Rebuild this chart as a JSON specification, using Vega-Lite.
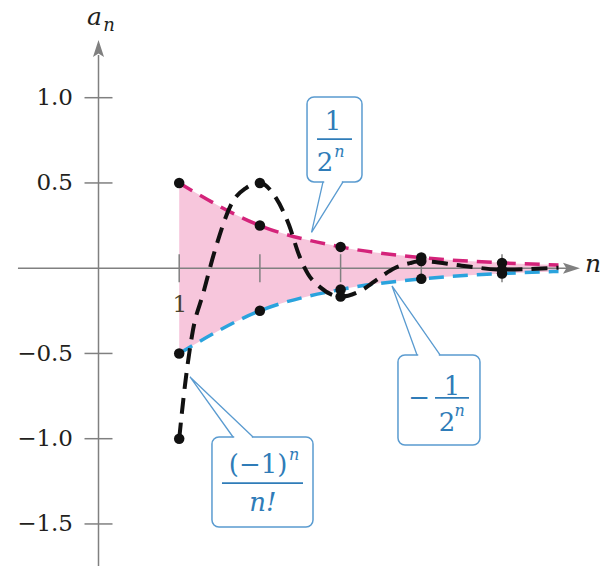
{
  "$schema": "https://vega.github.io/schema/vega-lite/v6.json",
  "width": 600,
  "height": 566,
  "autosize": {"type": "none"},
  "padding": 0,
  "background": "white",
  "config": {"view": {"stroke": null}},
  "datasets": {
    "band": [
      {"x": 1, "y": 0.5, "y2": -0.5},
      {"x": 2, "y": 0.25, "y2": -0.25},
      {"x": 3, "y": 0.125, "y2": -0.125},
      {"x": 4, "y": 0.0625, "y2": -0.0625},
      {"x": 5, "y": 0.03125, "y2": -0.03125},
      {"x": 5.7, "y": 0.019, "y2": -0.019}
    ],
    "upper": [
      {"x": 1, "y": 0.5}, {"x": 2, "y": 0.25}, {"x": 3, "y": 0.125},
      {"x": 4, "y": 0.0625}, {"x": 5, "y": 0.03125}, {"x": 5.7, "y": 0.019}
    ],
    "lower": [
      {"x": 1, "y": -0.5}, {"x": 2, "y": -0.25}, {"x": 3, "y": -0.125},
      {"x": 4, "y": -0.0625}, {"x": 5, "y": -0.03125}, {"x": 5.7, "y": -0.019}
    ],
    "seq": [
      {"x": 1, "y": -1}, {"x": 1.072, "y": -0.685}, {"x": 1.171, "y": -0.362},
      {"x": 1.295, "y": -0.151}, {"x": 1.444, "y": 0.107}, {"x": 1.654, "y": 0.383},
      {"x": 1.828, "y": 0.47}, {"x": 2, "y": 0.5}, {"x": 2.199, "y": 0.412},
      {"x": 2.361, "y": 0.253}, {"x": 2.485, "y": 0.077}, {"x": 2.596, "y": -0.034},
      {"x": 2.745, "y": -0.111}, {"x": 3, "y": -0.1667}, {"x": 3.265, "y": -0.128},
      {"x": 3.476, "y": -0.058}, {"x": 3.674, "y": 0.001}, {"x": 3.86, "y": 0.03},
      {"x": 4, "y": 0.0417}, {"x": 4.5, "y": 0.015}, {"x": 5, "y": -0.0083},
      {"x": 5.7, "y": 0.003}
    ],
    "dots": [
      {"x": 1, "y": 0.5}, {"x": 2, "y": 0.25}, {"x": 3, "y": 0.125}, {"x": 4, "y": 0.0625}, {"x": 5, "y": 0.03125},
      {"x": 1, "y": -0.5}, {"x": 2, "y": -0.25}, {"x": 3, "y": -0.125}, {"x": 4, "y": -0.0625}, {"x": 5, "y": -0.03125},
      {"x": 1, "y": -1}, {"x": 2, "y": 0.5}, {"x": 3, "y": -0.1667}, {"x": 4, "y": 0.0417}, {"x": 5, "y": -0.0083}
    ],
    "axes": [
      {"x": -0.998, "y": 0, "x2": 5.9, "y2": 0},
      {"x": 0, "y": -1.7466, "x2": 0, "y2": 1.25}
    ],
    "ticksY": [{"x": 0, "y": 1}, {"x": 0, "y": 0.5}, {"x": 0, "y": -0.5}, {"x": 0, "y": -1}, {"x": 0, "y": -1.5}],
    "ticksX": [{"x": 1, "y": 0}, {"x": 2, "y": 0}, {"x": 3, "y": 0}, {"x": 4, "y": 0}, {"x": 5, "y": 0}],
    "boxes": [
      {"x": 2.584, "x2": 3.265, "y": 1.004, "y2": 0.506},
      {"x": 3.711, "x2": 4.727, "y": -0.509, "y2": -1.037},
      {"x": 1.406, "x2": 2.658, "y": -0.99, "y2": -1.518}
    ],
    "covers": [
      {"x": 2.797, "x2": 3.015, "y": 0.506},
      {"x": 3.962, "x2": 4.217, "y": -0.509},
      {"x": 1.682, "x2": 1.9, "y": -0.99}
    ],
    "tails": [
      {"g": "a", "k": 0, "x": 2.782, "y": 0.506}, {"g": "a", "k": 1, "x": 2.64, "y": 0.21}, {"g": "a", "k": 2, "x": 3.03, "y": 0.506},
      {"g": "b", "k": 0, "x": 3.947, "y": -0.509}, {"g": "b", "k": 1, "x": 3.637, "y": -0.104}, {"g": "b", "k": 2, "x": 4.232, "y": -0.509},
      {"g": "c", "k": 0, "x": 1.667, "y": -0.99}, {"g": "c", "k": 1, "x": 1.134, "y": -0.638}, {"g": "c", "k": 2, "x": 1.915, "y": -0.99}
    ],
    "bars": [
      {"x": 2.708, "x2": 3.141, "y": 0.757},
      {"x": 4.17, "x2": 4.591, "y": -0.761},
      {"x": 1.53, "x2": 2.534, "y": -1.26}
    ],
    "boxText": [
      {"x": 2.906, "y": 0.857, "t": "1"},
      {"x": 2.807, "y": 0.617, "t": "2"},
      {"x": 3.972, "y": -0.761, "t": "−"},
      {"x": 4.38, "y": -0.696, "t": "1"},
      {"x": 4.318, "y": -0.908, "t": "2"},
      {"x": 1.977, "y": -1.154, "t": "(−1)"}
    ],
    "boxItalic": [{"x": 2.038, "y": -1.377, "t": "n!"}],
    "supText": [
      {"x": 2.985, "y": 0.68, "t": "n"},
      {"x": 4.475, "y": -0.835, "t": "n"},
      {"x": 2.425, "y": -1.095, "t": "n"}
    ],
    "axisLab": [
      {"x": -0.05, "y": 1.473, "t": "a"},
      {"x": 6.128, "y": 0.025, "t": "n"}
    ],
    "subLab": [{"x": 0.13, "y": 1.42, "t": "n"}],
    "arrowY": [{"x": 0, "y": 1.2886}],
    "arrowX": [{"x": 5.861, "y": 0}]
  },
  "encoding": {
    "x": {
      "field": "x", "type": "quantitative",
      "scale": {"domain": [-1.2206, 6.2144], "nice": false, "zero": false},
      "axis": {
        "orient": "bottom", "offset": -297.8, "domain": false, "ticks": false, "tickSize": 0, "zindex": 1,
        "grid": false, "labelPadding": 25, "values": [1], "format": "d", "title": null,
        "labelFont": "DejaVu Serif", "labelFontSize": 23, "labelColor": "#4a4330"
      }
    },
    "y": {
      "field": "y", "type": "quantitative",
      "scale": {"domain": [-1.7466, 1.573], "nice": false, "zero": false},
      "axis": {
        "orient": "left", "offset": -98.5, "domain": false, "ticks": false, "tickSize": 0,
        "grid": false, "labelPadding": 26, "values": [1, 0.5, -0.5, -1, -1.5], "format": ".1f", "title": null,
        "labelFont": "DejaVu Serif", "labelFontSize": 23, "labelColor": "#231f20"
      }
    }
  },
  "layer": [
    {
      "data": {"name": "band"},
      "mark": {"type": "area", "interpolate": "monotone", "color": "#f7c6dc", "opacity": 1},
      "encoding": {"y2": {"field": "y2"}}
    },
    {
      "data": {"name": "axes"},
      "mark": {"type": "rule", "color": "#808080", "strokeWidth": 1.5},
      "encoding": {"x2": {"field": "x2"}, "y2": {"field": "y2"}}
    },
    {
      "data": {"name": "ticksY"},
      "mark": {"type": "tick", "orient": "horizontal", "color": "#808080", "thickness": 1.5, "opacity": 1},
      "encoding": {"size": {"value": 28}}
    },
    {
      "data": {"name": "ticksX"},
      "mark": {"type": "tick", "orient": "vertical", "color": "#808080", "thickness": 1.5, "opacity": 1},
      "encoding": {"size": {"value": 28}}
    },
    {
      "data": {"name": "upper"},
      "mark": {"type": "line", "interpolate": "monotone", "color": "#d4237a", "strokeWidth": 3.5, "strokeDash": [15, 9]},
      "encoding": {}
    },
    {
      "data": {"name": "lower"},
      "mark": {"type": "line", "interpolate": "monotone", "color": "#2aa3dd", "strokeWidth": 3.5, "strokeDash": [15, 9]},
      "encoding": {}
    },
    {
      "data": {"name": "seq"},
      "mark": {"type": "line", "interpolate": "monotone", "color": "#111111", "strokeWidth": 4, "strokeDash": [16, 9]},
      "encoding": {}
    },
    {
      "data": {"name": "dots"},
      "mark": {"type": "point", "shape": "circle", "filled": true, "color": "#111111", "opacity": 1, "size": 110},
      "encoding": {}
    },
    {
      "data": {"name": "boxes"},
      "mark": {"type": "rect", "fill": "white", "stroke": "#5a9bd0", "strokeWidth": 1.5, "cornerRadius": 7},
      "encoding": {"x2": {"field": "x2"}, "y2": {"field": "y2"}}
    },
    {
      "data": {"name": "covers"},
      "mark": {"type": "rule", "color": "white", "strokeWidth": 3},
      "encoding": {"x2": {"field": "x2"}}
    },
    {
      "data": {"name": "tails"},
      "mark": {"type": "line", "color": "#5a9bd0", "strokeWidth": 1.3},
      "encoding": {"detail": {"field": "g"}, "order": {"field": "k"}}
    },
    {
      "data": {"name": "bars"},
      "mark": {"type": "rule", "color": "#2f7cb8", "strokeWidth": 1.8},
      "encoding": {"x2": {"field": "x2"}}
    },
    {
      "data": {"name": "boxText"},
      "mark": {"type": "text", "font": "DejaVu Serif", "fontSize": 26, "color": "#2f7cb8", "align": "center", "baseline": "middle"},
      "encoding": {"text": {"field": "t"}}
    },
    {
      "data": {"name": "boxItalic"},
      "mark": {"type": "text", "font": "DejaVu Serif", "fontSize": 26, "fontStyle": "italic", "color": "#2f7cb8", "align": "center", "baseline": "middle"},
      "encoding": {"text": {"field": "t"}}
    },
    {
      "data": {"name": "supText"},
      "mark": {"type": "text", "font": "DejaVu Serif", "fontSize": 16, "fontStyle": "italic", "color": "#2f7cb8", "align": "center", "baseline": "middle"},
      "encoding": {"text": {"field": "t"}}
    },
    {
      "data": {"name": "axisLab"},
      "mark": {"type": "text", "font": "DejaVu Serif", "fontSize": 25, "fontStyle": "italic", "color": "#231f20", "align": "center", "baseline": "middle"},
      "encoding": {"text": {"field": "t"}}
    },
    {
      "data": {"name": "subLab"},
      "mark": {"type": "text", "font": "DejaVu Serif", "fontSize": 18, "fontStyle": "italic", "color": "#231f20", "align": "center", "baseline": "middle"},
      "encoding": {"text": {"field": "t"}}
    },
    {
      "data": {"name": "arrowY"},
      "mark": {"type": "point", "shape": "M0,-1L0.65,1L0,0.6L-0.65,1Z", "filled": true, "color": "#808080", "opacity": 1, "size": 289},
      "encoding": {}
    },
    {
      "data": {"name": "arrowX"},
      "mark": {"type": "point", "shape": "M0,-1L0.65,1L0,0.6L-0.65,1Z", "filled": true, "color": "#808080", "opacity": 1, "size": 289, "angle": 90},
      "encoding": {}
    }
  ]
}
